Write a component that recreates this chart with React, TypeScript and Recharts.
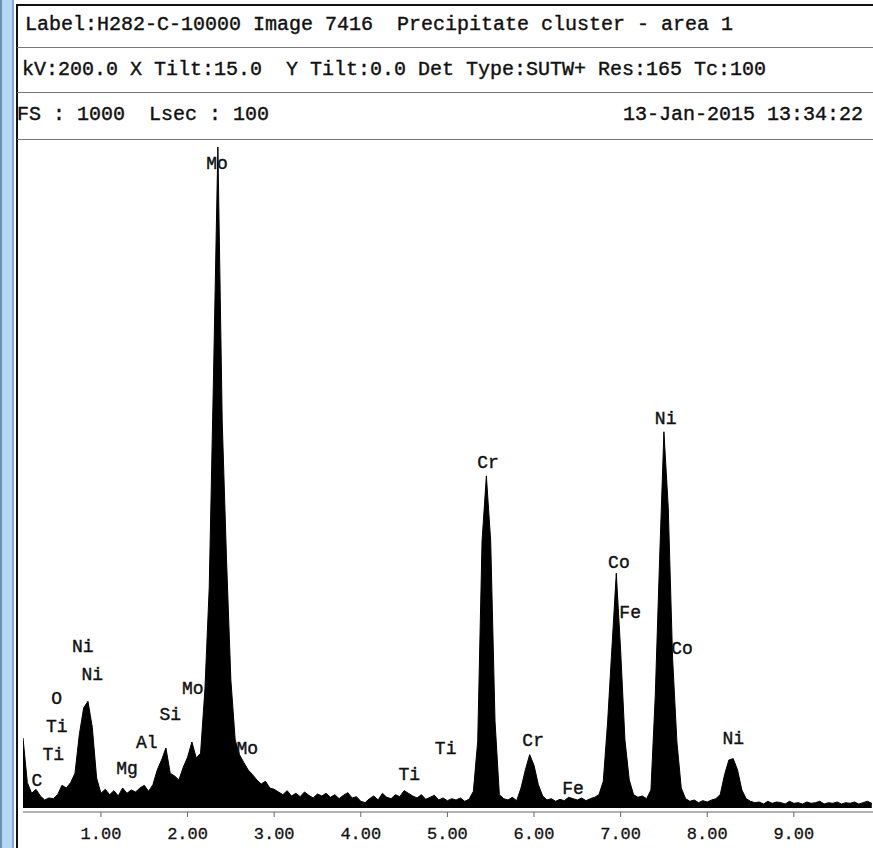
import { AreaChart, Area, XAxis, YAxis, ReferenceDot } from "recharts";

// channel calibration of the spectrum (keV)
const START_KEV = 0.1;
const STEP_KEV = 0.05;

// counts per channel, 0.10 .. 9.90 keV
const counts = [
  105, 38, 22, 28, 18, 12, 15, 14, 20, 34,
  30, 38, 52, 110, 150, 160, 121, 45, 22, 28,
  20, 26, 18, 30, 22, 27, 24, 30, 34, 25,
  35, 57, 72, 90, 52, 48, 42, 61, 76, 99,
  75, 82, 177, 330, 650, 991, 580, 372, 192, 102,
  80, 68, 57, 50, 42, 36, 40, 30, 28, 24,
  20, 26, 18, 22, 17, 24, 19, 15, 21, 18,
  22, 16, 20, 14, 19, 23, 15, 17, 10, 8,
  14, 18, 12, 22, 16, 14, 20, 17, 26, 22,
  18, 15, 20, 13, 16, 19, 12, 15, 11, 14,
  12, 15, 10, 13, 25, 100, 400, 498, 400, 130,
  20, 14, 12, 16, 11, 30, 57, 80, 64, 35,
  18, 12, 14, 10, 13, 11, 16, 14, 12, 15,
  11, 14, 16, 20, 40, 129, 241, 352, 237, 102,
  42, 20, 16, 18, 14, 27, 168, 372, 564, 450,
  225, 99, 30, 14, 10, 12, 8, 11, 9, 12,
  14, 20, 50, 72, 74, 57, 27, 14, 10, 8,
  9, 6, 10, 7, 9, 8, 6, 10, 7, 8,
  6, 9, 7, 8, 10, 6, 8, 7, 9, 6,
  8, 7, 9, 6, 8, 10, 7,
];

const xTicks = [1, 2, 3, 4, 5, 6, 7, 8, 9];

// element markers: text, energy (keV), height (counts)
const peakNames = ["C", "Ti", "Ti", "O", "Ni", "Ni", "Mg", "Al", "Si", "Mo", "Mo", "Mo", "Ti", "Ti", "Cr", "Cr", "Fe", "Co", "Fe", "Ni", "Co", "Ni"];
const peakKev = [0.26, 0.45, 0.49, 0.49, 0.79, 0.9, 1.3, 1.53, 1.8, 2.06, 2.34, 2.69, 4.56, 4.98, 5.47, 5.99, 6.45, 6.98, 7.11, 7.52, 7.71, 8.3];
const peakCounts = [43, 82, 123, 165, 243, 202, 60, 99, 141, 180, 968, 91, 51, 90, 519, 103, 31, 370, 294, 585, 241, 106];

const headerRow1 = "Label:H282-C-10000 Image 7416  Precipitate cluster - area 1";
const headerRow2 = "kV:200.0 X Tilt:15.0  Y Tilt:0.0 Det Type:SUTW+ Res:165 Tc:100";
const headerRow3 = "FS : 1000  Lsec : 100";
const headerDate = "13-Jan-2015 13:34:22";

const spectrum = counts.map((c, i) => ({ kev: +(START_KEV + i * STEP_KEV).toFixed(2), counts: c }));

const mono = '"Liberation Mono", "DejaVu Sans Mono", monospace';

const headerStyle = {
  position: "absolute" as const,
  fontSize: 20,
  lineHeight: "20px",
  whiteSpace: "pre" as const,
  color: "#111",
  WebkitTextStroke: "0.4px #111",
};

function Rule({ y, h = 1, color = "#777" }: { y: number; h?: number; color?: string }) {
  return <div style={{ position: "absolute", left: 17, right: 0, top: y, height: h, background: color }} />;
}

export default function App() {
  return (
    <div
      style={{
        position: "absolute",
        left: 0,
        top: 0,
        width: 873,
        height: 848,
        background: "#fff",
        overflow: "hidden",
        fontFamily: mono,
      }}
    >
      {/* window edge on the left */}
      <div style={{ position: "absolute", left: 0, top: 0, width: 13, height: 848, background: "#b4d7f4" }} />
      <div style={{ position: "absolute", left: 0, top: 0, width: 2, height: 848, background: "#6b8fb3" }} />
      <div style={{ position: "absolute", left: 12, top: 0, width: 2, height: 848, background: "#7eaad6" }} />
      <div style={{ position: "absolute", left: 16, top: 4, width: 2, height: 844, background: "#111" }} />

      <Rule y={4} h={2} color="#111" />
      <Rule y={47} />
      <Rule y={92} />
      <Rule y={139} />

      <div style={{ ...headerStyle, left: 25, top: 15 }}>{headerRow1}</div>
      <div style={{ ...headerStyle, left: 22, top: 60 }}>{headerRow2}</div>
      <div style={{ ...headerStyle, left: 17, top: 105 }}>{headerRow3}</div>
      <div style={{ ...headerStyle, right: 10, top: 105 }}>{headerDate}</div>

      <AreaChart
        width={873}
        height={848}
        data={spectrum}
        margin={{ top: 141, right: 0, bottom: 6, left: 23 }}
        style={{ position: "absolute", left: 0, top: 0 }}
      >
        <XAxis
          dataKey="kev"
          type="number"
          domain={[0.1, 9.914]}
          allowDataOverflow
          ticks={xTicks}
          tickFormatter={(v: number) => v.toFixed(2)}
          height={30}
          stroke="#666"
          tickSize={5}
          tickMargin={10}
          tick={{ fill: "#111", stroke: "#111", strokeWidth: 0.3, fontSize: 17, fontFamily: mono }}
        />
        <YAxis hide domain={[-6, 1000]} allowDataOverflow />
        <Area
          dataKey="counts"
          type="linear"
          stroke="#000"
          strokeWidth={1}
          fill="#000"
          fillOpacity={1}
          baseValue={0}
          dot={false}
          activeDot={false}
          isAnimationActive={false}
        />
        {peakNames.map((name, i) => (
          <ReferenceDot
            key={i}
            x={peakKev[i]}
            y={peakCounts[i]}
            r={0}
            fill="none"
            stroke="none"
            label={{
              value: name,
              position: "center",
              fill: "#111",
              stroke: "#111",
              strokeWidth: 0.4,
              fontSize: 18,
              fontFamily: mono,
            }}
          />
        ))}
      </AreaChart>
    </div>
  );
}
